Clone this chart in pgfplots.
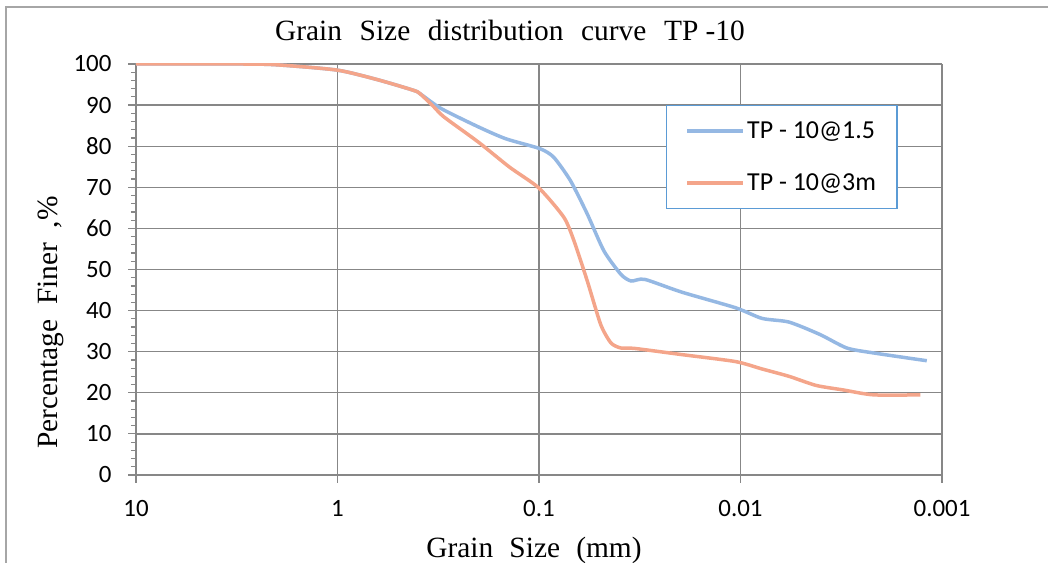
\documentclass[border=0pt]{standalone}
\usepackage{fontspec}
\setmainfont{Liberation Serif}
\newfontfamily\calib{Carlito}
\usepackage{pgfplots}
\pgfplotsset{compat=1.18}
\definecolor{cblue}{HTML}{95B8E3}
\definecolor{corange}{HTML}{F4A58A}
\definecolor{gmaj}{HTML}{878787}
\definecolor{gmin}{HTML}{BEBEBE}
\definecolor{legb}{HTML}{5B9BD5}
\begin{document}
\begin{tikzpicture}[x=1bp,y=1bp]
\path[use as bounding box] (0,0) rectangle (1048,563);
\draw[gray!70, line width=1.2bp] (6,0) -- (6,556) -- (1048,556);
\begin{axis}[
  at={(136bp,88bp)}, anchor=south west,
  scale only axis, width=806bp, height=411bp,
  xmode=log, x dir=reverse,
  xmin=0.001, xmax=10, ymin=0, ymax=100,
  xtick={10,1,0.1,0.01,0.001},
  xticklabels={10,1,0.1,0.01,0.001},
  ytick={0,10,...,100},
  minor ytick={2,4,...,98},
  log basis x=10,
  minor x tick num=8,
  grid=both,
  major grid style={gmaj, line width=1.3bp},
  minor grid style={gmin, line width=1.1bp},
  minor y grid style={draw=none},
  axis line style={gmaj, line width=1.3bp},
  axis x line*=bottom, axis y line*=left,
  tick align=outside,
  major tick length=8bp, minor tick length=5bp,
  tick style={gmaj, line width=1.2bp},
  minor x tick style={draw=none},
  xticklabel style={font=\calib\fontsize{25}{28}\selectfont, yshift=-14bp},
  yticklabel style={font=\calib\fontsize{25}{28}\selectfont, xshift=-13bp},
  /pgf/number format/assume math mode=true,
  title={Grain\hspace{0.6em}Size\hspace{0.6em}distribution\hspace{0.6em}curve\hspace{0.6em}TP -10},
  title style={font=\fontsize{29.5}{32}\selectfont, xshift=-29bp, yshift=14bp},
  xlabel={Grain\hspace{0.55em}Size\hspace{0.55em}(mm)},
  xlabel style={font=\fontsize{29.5}{32}\selectfont, yshift=-13bp, xshift=-5bp},
  ylabel={Percentage\hspace{0.5em}Finer\hspace{0.5em},\%},
  ylabel style={font=\fontsize{29.5}{32}\selectfont, yshift=3bp, xshift=-53bp},
  legend style={at={(0.6576,0.900)}, anchor=north west, draw=legb, line width=1.3bp,
    font=\calib\fontsize{26}{30}\selectfont, inner xsep=19bp, inner ysep=14bp,
    row sep=30bp, legend cell align=left},
  legend image code/.code={\path (0bp,0bp) -- (56bp,0bp);\draw[#1, line width=3.5bp] (0bp,0bp) -- (53bp,0bp);},
]
\addplot[cblue, line width=3.5bp, smooth, tension=0.4] coordinates {
(10,100) (3,100) (2,99.8) (1,98.5) (0.624,96.1) (0.42,93.6) (0.39,92.8)
(0.307,89.2) (0.2,84.7) (0.146,81.8) (0.099,79.4) (0.0845,77.3) (0.0698,71.6)
(0.0576,63.5) (0.0476,54.5) (0.0392,48.8) (0.0349,47.2) (0.0299,47.6)
(0.0196,44.5) (0.0106,40.7) (0.00782,38.1) (0.00574,37.2) (0.00404,34.2)
(0.00297,30.9) (0.00219,29.7) (0.00119,27.8)};
\addlegendentry{TP - 10@1.5}
\addplot[corange, line width=3.5bp, smooth, tension=0.4] coordinates {
(10,100) (3,100) (2,99.8) (1,98.5) (0.624,96.1) (0.42,93.6) (0.39,92.8)
(0.333,89.6) (0.296,87.1) (0.2,81) (0.14,74.9) (0.1,69.8)
(0.0753,62.7) (0.0671,57) (0.0576,47.2) (0.0494,36.6) (0.0439,32.1)
(0.0392,30.9) (0.0336,30.8) (0.0196,29.3) (0.0106,27.6) (0.00782,25.8)
(0.00574,24.0) (0.00422,21.8) (0.0031,20.7) (0.00219,19.5) (0.00128,19.5)};
\addlegendentry{TP - 10@3m}
\end{axis}
\end{tikzpicture}
\end{document}
